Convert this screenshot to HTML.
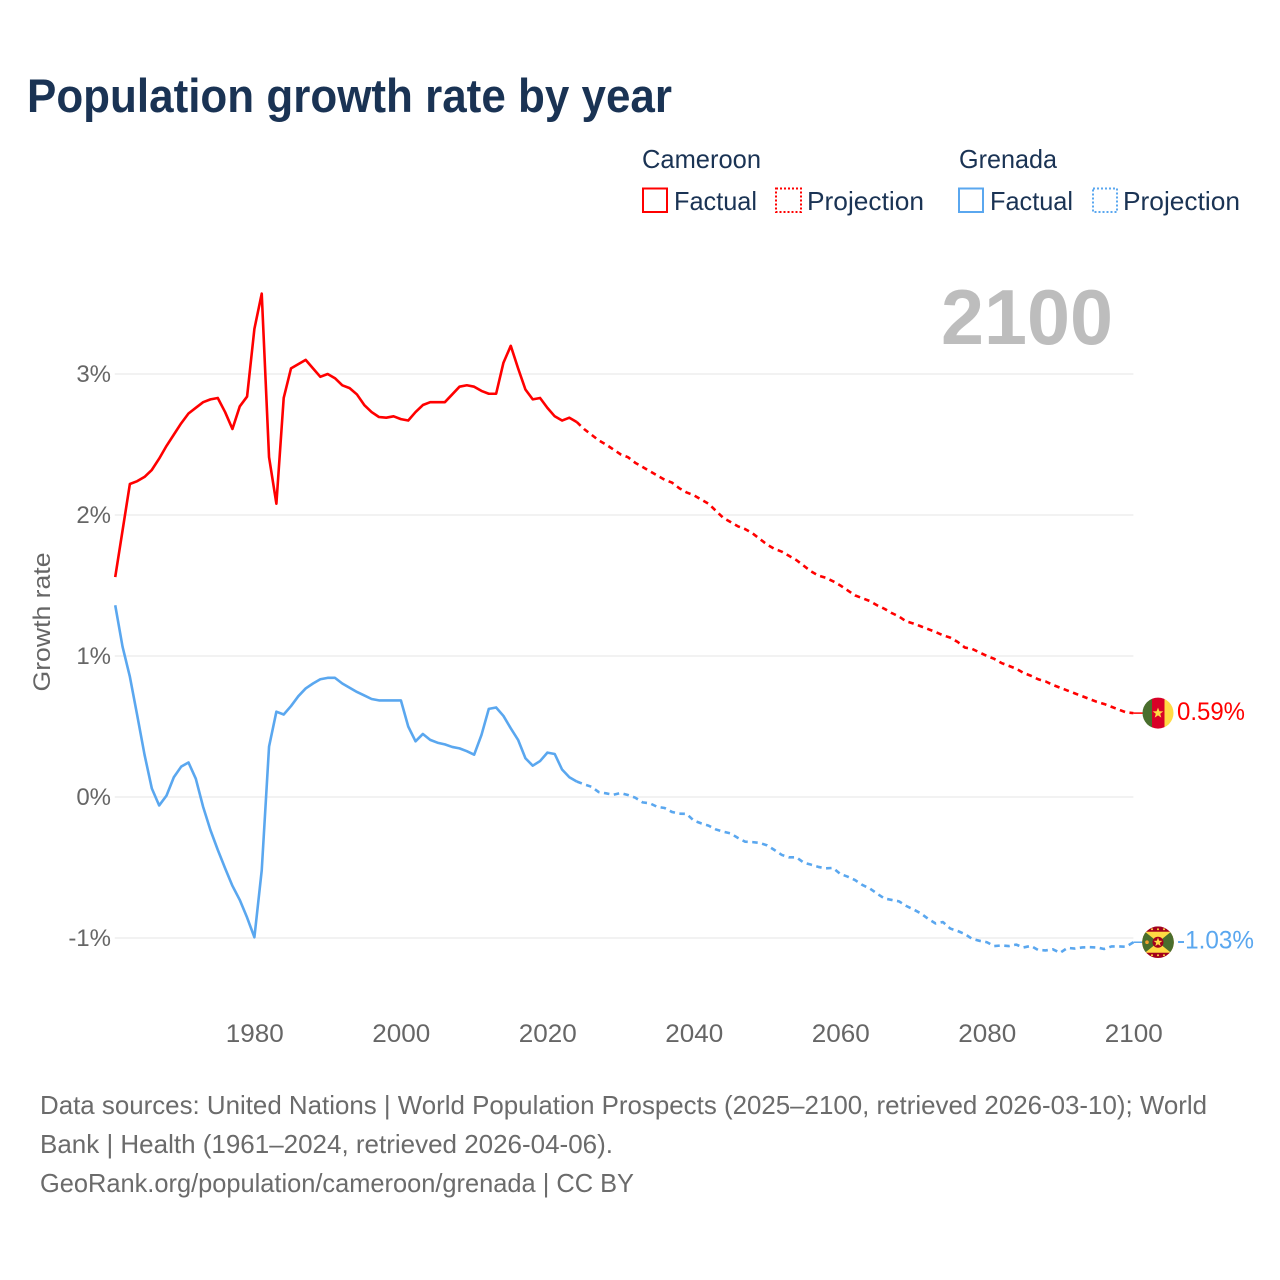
<!DOCTYPE html>
<html lang="en">
<head>
<meta charset="utf-8">
<title>Population growth rate by year</title>
<style>
  html, body { margin: 0; padding: 0; background: #fff; }
  svg { display: block; font-family: "Liberation Sans", sans-serif; }
</style>
</head>
<body>
<svg id="chart" xmlns="http://www.w3.org/2000/svg" width="1280" height="1280" viewBox="0 0 1280 1280">
  <rect x="0" y="0" width="1280" height="1280" fill="#fff"/>
  <text x="27" y="112" font-size="47" font-weight="700" fill="#1a3354" textLength="645" lengthAdjust="spacingAndGlyphs">Population growth rate by year</text>

  <g font-size="26" fill="#1a3354">
    <text x="642" y="168" textLength="119" lengthAdjust="spacingAndGlyphs">Cameroon</text>
    <rect x="643" y="188.500" width="24" height="23.500" fill="none" stroke="#ff0000" stroke-width="2"/>
    <text x="674" y="210" textLength="83" lengthAdjust="spacingAndGlyphs">Factual</text>
    <rect x="776" y="188.500" width="25" height="23.500" fill="none" stroke="#ff0000" stroke-width="2" stroke-dasharray="2 2"/>
    <text x="807" y="210" textLength="117" lengthAdjust="spacingAndGlyphs">Projection</text>
    <text x="959" y="168" textLength="98" lengthAdjust="spacingAndGlyphs">Grenada</text>
    <rect x="959" y="188.500" width="24" height="23.500" fill="none" stroke="#5aa7ef" stroke-width="2"/>
    <text x="990" y="210" textLength="83" lengthAdjust="spacingAndGlyphs">Factual</text>
    <rect x="1093" y="188.500" width="24" height="23.500" fill="none" stroke="#5aa7ef" stroke-width="2" stroke-dasharray="2 2"/>
    <text x="1123" y="210" textLength="117" lengthAdjust="spacingAndGlyphs">Projection</text>
  </g>

  <text x="941" y="344" font-size="78" font-weight="700" fill="#bdbdbd" textLength="172" lengthAdjust="spacingAndGlyphs">2100</text>

  <g id="grid"></g>
  <g id="y-ticks" font-size="24" fill="#666" text-anchor="end"></g>
  <g id="x-ticks" font-size="25" fill="#666" text-anchor="middle"></g>
  <text transform="translate(50 622) rotate(-90)" font-size="24" fill="#666" text-anchor="middle" textLength="139" lengthAdjust="spacingAndGlyphs">Growth rate</text>

  <g id="series"></g>

  <g id="flag-cameroon">
    <clipPath id="clip-cm"><circle cx="0" cy="0" r="15.500"/></clipPath>
    <g clip-path="url(#clip-cm)">
      <rect x="-16" y="-16" width="10" height="32" fill="#496e2d"/>
      <rect x="-6" y="-16" width="12.500" height="32" fill="#d80027"/>
      <rect x="6.500" y="-16" width="10" height="32" fill="#ffda44"/>
      <polygon points="0,-5.500 1.400,-1.800 5.300,-1.700 2.200,0.700 3.300,4.500 0,2.300 -3.300,4.500 -2.200,0.700 -5.300,-1.700 -1.400,-1.800" fill="#ffda44"/>
    </g>
  </g>
  <g id="flag-grenada">
    <clipPath id="clip-gd"><circle cx="0" cy="0" r="15.800"/></clipPath>
    <g clip-path="url(#clip-gd)">
      <rect x="-16" y="-16" width="32" height="32" fill="#a2001d"/>
      <rect x="-16" y="-10.500" width="32" height="21" fill="#ffda44"/>
      <polygon points="-13,-10.500 0,0 -13,10.500 -17,10.500 -17,-10.500" fill="#496e2d"/>
      <polygon points="13,-10.500 0,0 13,10.500 17,10.500 17,-10.500" fill="#496e2d"/>
      <circle cx="0" cy="0" r="5.500" fill="#a2001d"/>
      <polygon points="0,-4.600 1.200,-1.500 4.400,-1.400 1.800,0.600 2.700,3.800 0,2 -2.700,3.800 -1.800,0.600 -4.400,-1.400 -1.200,-1.500" fill="#ffda44"/>
      <circle cx="-11" cy="0" r="1.800" fill="#f0a030"/>
      <circle cx="-6" cy="-13" r="1" fill="#ffda44"/>
      <circle cx="0" cy="-13" r="1" fill="#ffda44"/>
      <circle cx="6" cy="-13" r="1" fill="#ffda44"/>
      <circle cx="-6" cy="13" r="1" fill="#ffda44"/>
      <circle cx="0" cy="13" r="1" fill="#ffda44"/>
      <circle cx="6" cy="13" r="1" fill="#ffda44"/>
    </g>
  </g>
  <text id="value-cameroon" x="1177" font-size="25" fill="#ff0000" textLength="68" lengthAdjust="spacingAndGlyphs"></text>
  <text id="value-grenada" x="1177" font-size="25" fill="#5aa7ef" textLength="77" lengthAdjust="spacingAndGlyphs"></text>

  <g font-size="26" fill="#6b6b6b">
    <text x="40" y="1114" textLength="1167" lengthAdjust="spacingAndGlyphs">Data sources: United Nations | World Population Prospects (2025–2100, retrieved 2026-03-10); World</text>
    <text x="40" y="1153" textLength="573" lengthAdjust="spacingAndGlyphs">Bank | Health (1961–2024, retrieved 2026-04-06).</text>
    <text x="40" y="1192" textLength="594" lengthAdjust="spacingAndGlyphs">GeoRank.org/population/cameroon/grenada | CC BY</text>
  </g>
</svg>

<script>
const yTickValues = [3, 2, 1, 0, -1];
const yTickLabels = ['3%', '2%', '1%', '0%', '-1%'];
const xTickYears = [1980, 2000, 2020, 2040, 2060, 2080, 2100];
const firstYear = 1961;
const lastFactualYear = 2024;
const endLabels = ['0.59%', '-1.03%'];

const cameroonValues = [
  1.56, 1.89, 2.22, 2.24, 2.27, 2.32, 2.40, 2.49, 2.57, 2.65,
  2.72, 2.76, 2.80, 2.82, 2.83, 2.73, 2.61, 2.77, 2.84, 3.32,
  3.57, 2.41, 2.08, 2.83, 3.04, 3.07, 3.10, 3.04, 2.98, 3.00,
  2.97, 2.92, 2.90, 2.855, 2.78, 2.73, 2.695, 2.69, 2.70, 2.68,
  2.67, 2.73, 2.78, 2.80, 2.80, 2.80, 2.855, 2.91, 2.92, 2.91,
  2.88, 2.86, 2.86, 3.08, 3.20, 3.04, 2.89, 2.82, 2.83, 2.76,
  2.70, 2.67, 2.69, 2.66, 2.61, 2.57, 2.53, 2.50, 2.465, 2.43,
  2.41, 2.37, 2.34, 2.31, 2.28, 2.25, 2.23, 2.19, 2.16, 2.14,
  2.11, 2.08, 2.03, 1.98, 1.95, 1.92, 1.90, 1.87, 1.83, 1.79,
  1.76, 1.74, 1.71, 1.68, 1.64, 1.60, 1.57, 1.555, 1.53, 1.50,
  1.465, 1.43, 1.41, 1.39, 1.36, 1.335, 1.305, 1.28, 1.245, 1.23,
  1.21, 1.19, 1.17, 1.147, 1.13, 1.10, 1.06, 1.05, 1.025, 1.00,
  0.98, 0.95, 0.93, 0.91, 0.88, 0.86, 0.835, 0.82, 0.795, 0.775,
  0.755, 0.735, 0.715, 0.695, 0.675, 0.66, 0.64, 0.62, 0.60, 0.595
];

const grenadaValues = [
  1.36, 1.066, 0.853, 0.58, 0.30, 0.06, -0.06, 0.01, 0.14, 0.215,
  0.245, 0.13, -0.07, -0.235, -0.375, -0.505, -0.63, -0.73, -0.855, -0.995,
  -0.52, 0.357, 0.605, 0.585, 0.645, 0.715, 0.77, 0.805, 0.835, 0.845,
  0.845, 0.805, 0.775, 0.745, 0.72, 0.695, 0.685, 0.685, 0.685, 0.685,
  0.50, 0.395, 0.447, 0.405, 0.385, 0.373, 0.355, 0.345, 0.325, 0.30,
  0.44, 0.625, 0.635, 0.575, 0.487, 0.405, 0.275, 0.222, 0.255, 0.315,
  0.305, 0.195, 0.14, 0.11, 0.09, 0.073, 0.035, 0.026, 0.016, 0.028,
  0.014, -0.005, -0.038, -0.045, -0.07, -0.078, -0.106, -0.118, -0.12, -0.168,
  -0.187, -0.203, -0.23, -0.246, -0.258, -0.29, -0.317, -0.32, -0.326, -0.343,
  -0.376, -0.411, -0.428, -0.428, -0.466, -0.48, -0.496, -0.506, -0.503, -0.546,
  -0.565, -0.589, -0.624, -0.648, -0.685, -0.72, -0.73, -0.74, -0.773, -0.798,
  -0.826, -0.865, -0.897, -0.887, -0.933, -0.95, -0.972, -1.007, -1.02, -1.03,
  -1.057, -1.053, -1.057, -1.047, -1.067, -1.056, -1.085, -1.088, -1.08, -1.105,
  -1.07, -1.075, -1.067, -1.065, -1.067, -1.078, -1.06, -1.06, -1.062, -1.03
];

const SVG_NS = 'http://www.w3.org/2000/svg';
function xScale(year) { return 254.4 + (year - 1980) * 7.325; }
function yScale(value) { return 797 - value * 141; }

const gridGroup = document.getElementById('grid');
const yGroup = document.getElementById('y-ticks');
const xGroup = document.getElementById('x-ticks');
const seriesGroup = document.getElementById('series');

yTickValues.forEach(function (value, i) {
  const line = document.createElementNS(SVG_NS, 'line');
  
  
  line.setAttribute('x1', xScale(firstYear) - 0.5);
  line.setAttribute('x2', xScale(2100));
  line.setAttribute('y1', yScale(value));
  line.setAttribute('y2', yScale(value));
  line.setAttribute('stroke', '#eeeeee');
  line.setAttribute('stroke-width', '1.5');
  gridGroup.appendChild(line);

  const label = document.createElementNS(SVG_NS, 'text');
  
  
  label.setAttribute('x', 111);
  label.setAttribute('y', yScale(value) + 8);
  label.textContent = yTickLabels[i];
  yGroup.appendChild(label);
});

xTickYears.forEach(function (year) {
  const label = document.createElementNS(SVG_NS, 'text');
  
  
  label.setAttribute('x', xScale(year) + 0.4);
  label.setAttribute('y', 1042);
  label.setAttribute('textLength', '58');
  label.setAttribute('lengthAdjust', 'spacingAndGlyphs');
  label.textContent = String(year);
  xGroup.appendChild(label);
});

function pathFor(values, fromYear, toYear) {
  const parts = [];
  for (let year = fromYear; year <= toYear; year++) {
    const v = values[year - firstYear];
    parts.push((parts.length ? 'L' : 'M') + xScale(year).toFixed(2) + ' ' + yScale(v).toFixed(2));
  }
  return parts.join(' ');
}

function drawLine(d, color, dashed) {
  const path = document.createElementNS(SVG_NS, 'path');
  path.setAttribute('d', d);
  path.setAttribute('fill', 'none');
  path.setAttribute('stroke', color);
  path.setAttribute('stroke-width', '2.6');
  path.setAttribute('stroke-linejoin', 'round');
  if (dashed) path.setAttribute('stroke-dasharray', '5.5 4.5');
  seriesGroup.appendChild(path);
  return path;
}

const lastYear = firstYear + cameroonValues.length - 1;
const flagX = 1158;

const cmFactual = drawLine(pathFor(cameroonValues, firstYear, lastFactualYear), '#ff0000', false);


const cmProjection = drawLine(pathFor(cameroonValues, lastFactualYear, lastYear), '#ff0000', true);


const gdFactual = drawLine(pathFor(grenadaValues, firstYear, lastFactualYear), '#5aa7ef', false);


const gdProjection = drawLine(pathFor(grenadaValues, lastFactualYear, lastYear), '#5aa7ef', true);



const cmEndY = yScale(cameroonValues[cameroonValues.length - 1]);
const gdEndY = yScale(grenadaValues[grenadaValues.length - 1]);

const cmConnector = drawLine('M' + xScale(lastYear) + ' ' + cmEndY + ' L' + (flagX - 15) + ' ' + cmEndY, '#ff0000', false);


cmConnector.setAttribute('stroke-width', '1.5');
const gdConnector = drawLine('M' + xScale(lastYear) + ' ' + gdEndY + ' L' + (flagX - 15) + ' ' + gdEndY, '#5aa7ef', false);


gdConnector.setAttribute('stroke-width', '1.5');

document.getElementById('flag-cameroon').setAttribute('transform', 'translate(' + flagX + ' ' + cmEndY + ')');
document.getElementById('flag-grenada').setAttribute('transform', 'translate(' + flagX + ' ' + gdEndY + ')');

const cmLabel = document.getElementById('value-cameroon');
cmLabel.setAttribute('y', cmEndY + 7);
cmLabel.textContent = endLabels[0];
const gdLabel = document.getElementById('value-grenada');
gdLabel.setAttribute('y', gdEndY + 6.5);
gdLabel.textContent = endLabels[1];
</script>
</body>
</html>
